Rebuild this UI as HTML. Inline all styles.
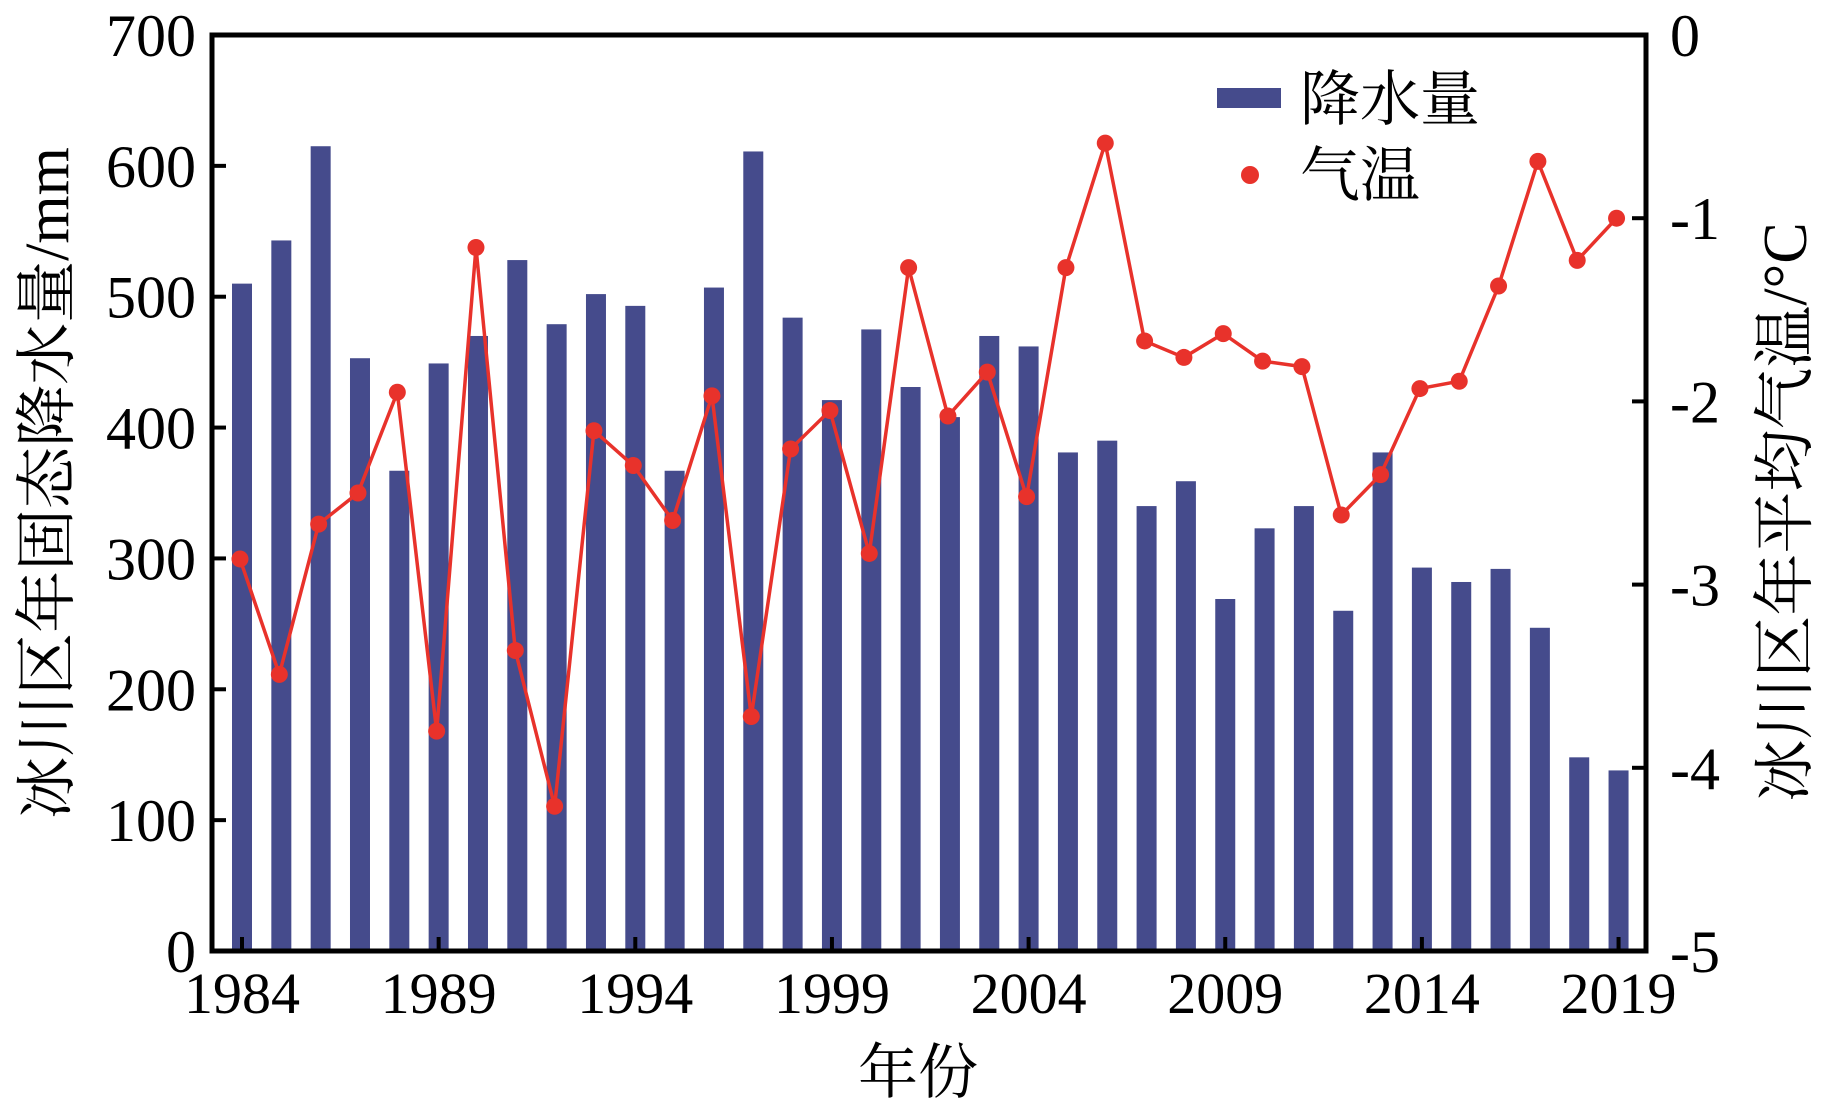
<!DOCTYPE html>
<html><head><meta charset="utf-8"><style>
html,body{margin:0;padding:0;background:#fff;}
svg{display:block;}
text{font-family:"Liberation Serif","Noto Serif CJK SC",serif;fill:#000;}
</style></head><body>
<svg id="chart" width="1826" height="1110" viewBox="0 0 1826 1110">
<g id="bars"></g>
<g id="line"></g>
<g id="axes"></g>
<g>
<rect x="1217" y="88" width="64" height="20" fill="#454b8c"/>
<text x="1300" y="120" font-size="60">降水量</text>
<circle cx="1250" cy="175" r="9" fill="#e8322b"/>
<text x="1300" y="196" font-size="60">气温</text>
</g>
<text x="0" y="0" font-size="62" text-anchor="middle" transform="translate(68,483) rotate(-90)">冰川区年固态降水量/mm</text>
<text x="0" y="0" font-size="62" text-anchor="middle" transform="translate(1806,512) rotate(-90)">冰川区年平均气温/°C</text>
<text x="918" y="1093" font-size="60" text-anchor="middle">年份</text>
</svg>
<script>
const years = [1984,1985,1986,1987,1988,1989,1990,1991,1992,1993,1994,1995,1996,1997,1998,1999,2000,2001,2002,2003,2004,2005,2006,2007,2008,2009,2010,2011,2012,2013,2014,2015,2016,2017,2018,2019];
const precip = [510,543,615,453,367,449,470,528,479,502,493,367,507,611,484,421,475,431,408,470,462,381,390,340,359,269,323,340,260,381,293,282,292,247,148,138];
const temp = [-2.86,-3.49,-2.67,-2.5,-1.95,-3.8,-1.16,-3.36,-4.21,-2.16,-2.35,-2.65,-1.97,-3.72,-2.26,-2.05,-2.83,-1.27,-2.08,-1.84,-2.52,-1.27,-0.59,-1.67,-1.76,-1.63,-1.78,-1.81,-2.62,-2.4,-1.93,-1.89,-1.37,-0.69,-1.23,-1.0];
const leftTicks = [0,100,200,300,400,500,600,700];
const rightTicks = [0,-1,-2,-3,-4,-5];
const xTicks = [1984,1989,1994,1999,2004,2009,2014,2019];

const L=212,R=1646,T=35,B=951;
const NS='http://www.w3.org/2000/svg';
const x0=242, step=39.33;
const xs = y => x0 + (y-1984)*step;
const yl = v => B - v/700*(B-T);
const yr = v => T + (-v)/5*(B-T);
function mk(tag, attrs, parent){const e=document.createElementNS(NS,tag);for(const k in attrs)e.setAttribute(k,attrs[k]);parent.appendChild(e);return e;}
const bars=document.getElementById('bars'), line=document.getElementById('line'), axes=document.getElementById('axes');

years.forEach((yr_,i)=>{
  const el=mk('rect',{x:xs(yr_)-10,y:yl(precip[i]),width:20,height:B-yl(precip[i]),fill:'#454b8c'},bars);
  
  
});
const pts=years.map((y,i)=>(xs(y)-2)+','+yr(temp[i])).join(' ');
const pl=mk('polyline',{points:pts,fill:'none',stroke:'#e8322b','stroke-width':3.5},line);


years.forEach((y,i)=>{
  const c=mk('circle',{cx:xs(y)-2,cy:yr(temp[i]),r:8.5,fill:'#e8322b'},line);
  
  
});

const frame=mk('rect',{x:L,y:T,width:R-L,height:B-T,fill:'none',stroke:'#000','stroke-width':5},axes);


leftTicks.forEach(v=>{
  const y=yl(v);
  mk('line',{x1:L,x2:L+14,y1:y,y2:y,stroke:'#000','stroke-width':4},axes);
  const t=mk('text',{x:L-16,y:y+21,'font-size':60,'text-anchor':'end'},axes);
  t.textContent=v;
  
  
});
rightTicks.forEach(v=>{
  const y=yr(v);
  mk('line',{x1:R-14,x2:R,y1:y,y2:y,stroke:'#000','stroke-width':4},axes);
  const t=mk('text',{x:R+24,y:y+21,'font-size':60},axes);
  t.textContent=v;
  
  
});
xTicks.forEach(v=>{
  const x=xs(v);
  mk('line',{x1:x,x2:x,y1:B-14,y2:B,stroke:'#000','stroke-width':4},axes);
  const t=mk('text',{x:x,y:B+62,'font-size':58,'text-anchor':'middle'},axes);
  t.textContent=v;
  
  
});
</script>
</body></html>
